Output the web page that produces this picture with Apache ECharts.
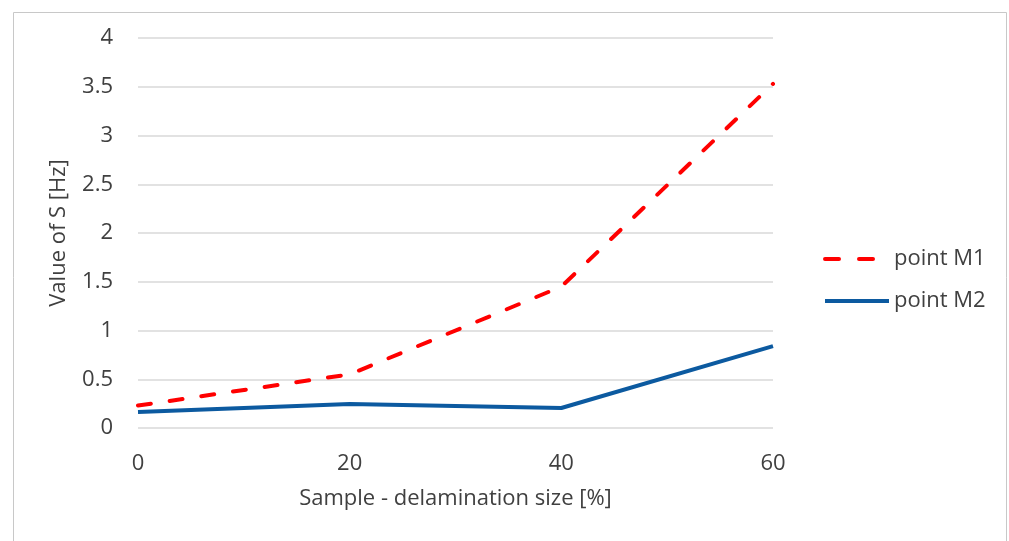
<!DOCTYPE html>
<html><head><meta charset="utf-8">
<script src="https://cdn.jsdelivr.net/npm/echarts@6/dist/echarts.min.js"></script>
<style>html,body{margin:0;padding:0;background:#fff}#c{width:1009px;height:541px}</style>
</head><body><div id="c"></div>
<script>
const xValues = [0, 20, 40, 60];
const m1 = [0.23, 0.55, 1.45, 3.53];
const m2 = [0.165, 0.245, 0.205, 0.84];
const seriesNames = ['point M1', 'point M2'];
const font = 'Open Sans';
const chart = echarts.init(document.getElementById('c'));
chart.setOption({
  animation: false,
  backgroundColor: '#fff',
  graphic: [{type: 'rect', shape: {x: 13.5, y: 12.5, width: 993, height: 540}, style: {fill: 'none', stroke: '#c8c8c8', lineWidth: 1}}],
  grid: {left: 138, right: 236, top: 38, bottom: 113},
  xAxis: {
    type: 'value', min: 0, max: 60, interval: 20,
    name: 'Sample - delamination size [%]', nameLocation: 'middle', nameGap: 60,
    nameTextStyle: {fontFamily: font, fontSize: 22, color: '#404040'},
    axisLine: {show: false}, axisTick: {show: false}, splitLine: {show: false},
    axisLabel: {fontFamily: font, fontSize: 22, color: '#404040', margin: 25}
  },
  yAxis: {
    type: 'value', min: 0, max: 4, interval: 0.5,
    name: 'Value of S [Hz]', nameLocation: 'middle', nameGap: 68,
    nameTextStyle: {fontFamily: font, fontSize: 22, color: '#404040'},
    axisLine: {show: false}, axisTick: {show: false},
    splitLine: {lineStyle: {color: '#d9d9d9', width: 1.5}},
    axisLabel: {fontFamily: font, fontSize: 22, color: '#404040', margin: 25}
  },
  legend: {
    orient: 'vertical', left: 823, top: 248, padding: 0, itemGap: 20, itemWidth: 64, itemHeight: 24,
    itemStyle: {opacity: 0},
    textStyle: {fontFamily: font, fontSize: 22, color: '#404040'},
    data: [
      {name: seriesNames[0], lineStyle: {width: 4, type: [14, 20], cap: 'round'}},
      {name: seriesNames[1], lineStyle: {width: 4}}
    ]
  },
  series: [
    {name: seriesNames[0], type: 'line', showSymbol: false, symbol: 'none',
     data: xValues.map((x, i) => [x, m1[i]]),
     lineStyle: {color: '#ff0000', width: 4, type: [13, 19], cap: 'round'}, itemStyle: {color: '#ff0000'}},
    {name: seriesNames[1], type: 'line', showSymbol: false, symbol: 'none',
     data: xValues.map((x, i) => [x, m2[i]]),
     lineStyle: {color: '#0c5aa0', width: 4}, itemStyle: {color: '#0c5aa0'}}
  ]
});
</script></body></html>
